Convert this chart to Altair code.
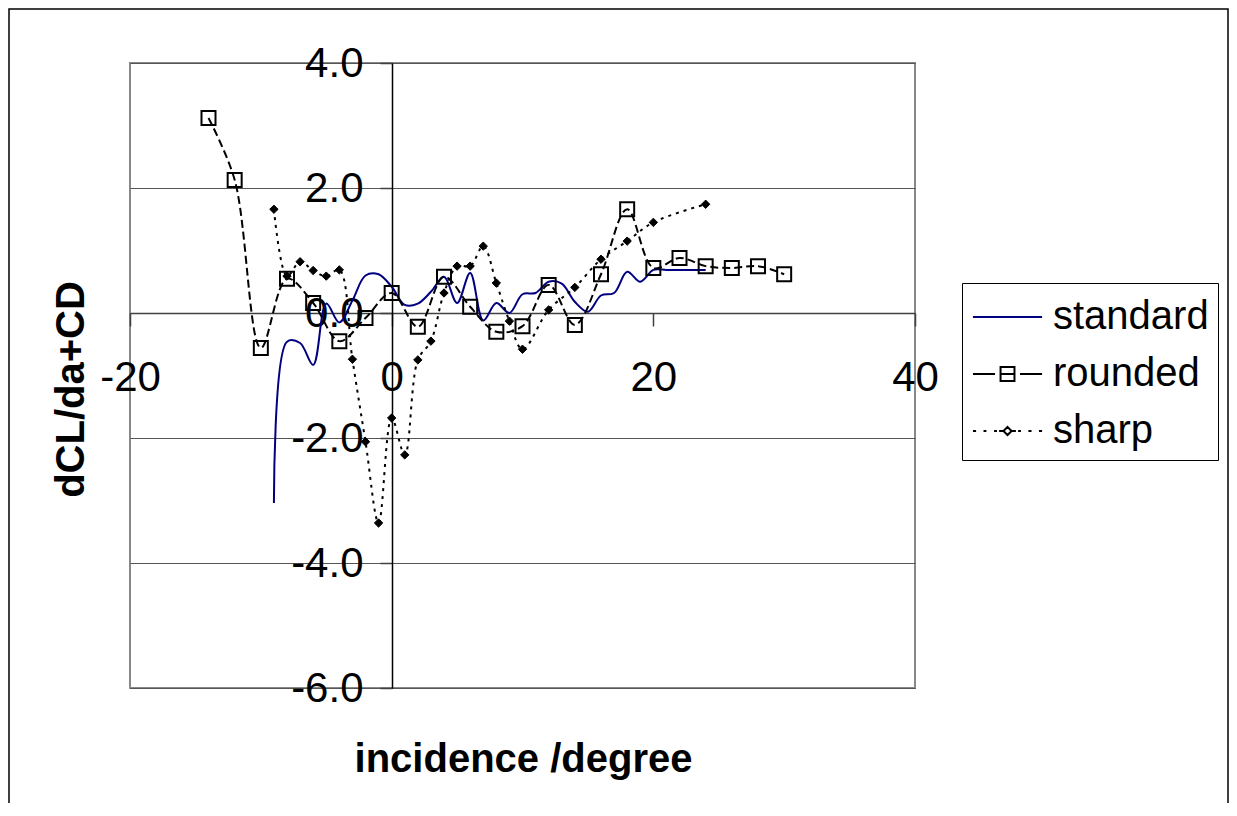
import altair as alt
import pandas as pd

# ---------------- data ----------------
series_names = ["standard", "rounded", "sharp"]

std_x = [-9, -8, -7, -6, -5, -4, -3, -2, -1, 0, 1, 2, 3, 4, 5, 6, 7, 8, 9, 10,
         11, 12, 13, 14, 15, 16, 17, 18, 19, 20, 21, 22, 23, 24]
std_y = [-3.04, -0.46, -0.48, -0.83, 0.15, -0.15, 0.20, 0.60, 0.62, 0.42, 0.13,
         0.15, 0.34, 0.58, 0.16, 0.64, -0.12, 0.16, 0.00, 0.30, 0.32, 0.50, 0.47,
         0.18, 0.02, 0.28, 0.32, 0.66, 0.50, 0.69, 0.69, 0.69, 0.69, 0.69]

rnd_x = [-14, -12, -10, -8, -6, -4, -2, 0, 2, 4, 6, 8, 10, 12, 14, 16, 18, 20,
         22, 24, 26, 28, 30]
rnd_y = [3.12, 2.13, -0.56, 0.55, 0.16, -0.45, -0.08, 0.32, -0.22, 0.58, 0.10,
         -0.30, -0.21, 0.45, -0.19, 0.62, 1.66, 0.72, 0.88, 0.75, 0.72, 0.75, 0.62]

shp_x = [-9, -8, -7, -6, -5, -4, -3, -2, -1, 0, 1, 2, 3, 4, 5, 6, 7, 8, 9, 10,
         12, 14, 16, 18, 20, 24]
shp_y = [1.66, 0.59, 0.82, 0.68, 0.59, 0.69, -0.74, -2.06, -3.36, -1.68, -2.27,
         -0.75, -0.45, 0.32, 0.75, 0.75, 1.07, 0.48, -0.13, -0.58, 0.05, 0.41,
         0.86, 1.15, 1.45, 1.74]

x_ticks = [-20, 0, 20, 40]
y_ticks = [-6, -4, -2, 0, 2, 4]

rows = []
for name, xs, ys in [("standard", std_x, std_y), ("rounded", rnd_x, rnd_y),
                     ("sharp", shp_x, shp_y)]:
    for xv, yv in zip(xs, ys):
        rows.append({"series": name, "x": xv, "y": yv})
df = pd.DataFrame(rows)

# ---------------- styling ----------------
FONT = "Liberation Sans"
W, H = 785, 625
series_colors = ["#000080", "#000000", "#000000"]
# legend sample glyphs (line + marker), unit = 24 px
legend_paths = [
    "M-0.96,0H1.92",
    "M-0.96,0H-0.04M0.19,-0.29H0.77V0.29H0.19ZM0.19,0H0.77M1,0H1.92",
    "M-0.96,0H-0.83M-0.52,0H-0.4M-0.08,0H0.04M0.13,0H0.29"
    "M0.48,-0.17L0.65,0L0.48,0.17L0.31,0Z"
    "M0.67,0H0.83M0.92,0H1.04M1.35,0H1.48M1.79,0H1.92",
]

x_enc = alt.X(
    "x:Q",
    scale=alt.Scale(domain=[-20, 40], nice=False, zero=False),
    axis=alt.Axis(
        values=x_ticks, offset=-375, grid=False,
        labelExpr="replace(datum.label, '\u2212', '-')",
        domainColor="#404040", domainWidth=1.5,
        tickColor="#404040", tickSize=13, tickWidth=1.5,
        labelFont=FONT, labelFontSize=42, labelColor="black",
        labelPadding=31, labelFlush=False, labelOverlap=False,
        title="incidence /degree", titleFont=FONT, titleFontSize=40,
        titleFontWeight="bold", titleColor="black",
        titleX=393, titleY=458, titleAlign="center",
        titleBaseline="alphabetic",
    ),
)
y_enc = alt.Y(
    "y:Q",
    scale=alt.Scale(domain=[-6, 4], nice=False, zero=False),
    axis=alt.Axis(
        values=y_ticks, format=".1f", offset=-262,
        labelExpr="replace(datum.label, '\u2212', '-')",
        grid=True, gridColor="#555555", gridWidth=1,
        domainColor="#000000", domainWidth=1.5,
        tickColor="#404040", tickSize=12, tickWidth=1.5,
        labelFont=FONT, labelFontSize=42, labelColor="black",
        labelPadding=17, labelFlush=False, labelOverlap=False,
        title="dCL/da+CD", titleFont=FONT, titleFontSize=40,
        titleFontWeight="bold", titleColor="black",
        titleAngle=270, titleX=-321, titleY=326,
        titleAlign="center", titleBaseline="middle",
    ),
)

base = alt.Chart(df)

frame = alt.Chart(alt.Data(values=[{}])).mark_rect(
    fill="transparent", stroke="black", strokeWidth=1.5
).encode(
    x=alt.value(-121), x2=alt.value(1098), y=alt.value(-54), y2=alt.value(790)
)

line_std = base.transform_filter(alt.datum.series == "standard").mark_line(
    interpolate="catmull-rom", color="#000080", strokeWidth=2
).encode(x=x_enc, y=y_enc)

line_rnd = base.transform_filter(alt.datum.series == "rounded").mark_line(
    interpolate="catmull-rom", color="black", strokeWidth=2, strokeDash=[8, 4]
).encode(x=x_enc, y=y_enc)

line_shp = base.transform_filter(alt.datum.series == "sharp").mark_line(
    interpolate="catmull-rom", color="black", strokeWidth=2, strokeDash=[3, 5]
).encode(x=x_enc, y=y_enc)

pts_rnd = base.transform_filter(alt.datum.series == "rounded").mark_point(
    shape="square", size=196, filled=False, stroke="black", strokeWidth=2,
    opacity=1
).encode(x=x_enc, y=y_enc)

pts_shp = base.transform_filter(alt.datum.series == "sharp").mark_point(
    shape="diamond", size=70, filled=True, fill="black", stroke="black",
    strokeWidth=1, opacity=1
).encode(x=x_enc, y=y_enc)

leg_spec = dict(
    orient="none", legendX=832, legendY=220, title=None,
    labelFont=FONT, labelFontSize=40, labelColor="black",
    symbolSize=2304, symbolStrokeWidth=2, labelOffset=32,
    rowPadding=12, padding=9, strokeColor="black", fillColor="white",
)

legend_layer = base.transform_filter("false").mark_point(
    filled=False, strokeWidth=2, opacity=1
).encode(
    x=x_enc, y=y_enc,
    color=alt.Color("series:N",
                    scale=alt.Scale(domain=series_names, range=series_colors),
                    legend=alt.Legend(**leg_spec)),
    shape=alt.Shape("series:N",
                    scale=alt.Scale(domain=series_names, range=legend_paths),
                    legend=alt.Legend(**leg_spec)),
)

chart = alt.layer(
    frame, line_std, line_rnd, line_shp, pts_rnd, pts_shp, legend_layer
).properties(
    width=W, height=H,
    padding={"left": 122, "top": 55, "right": 314, "bottom": 115},
    autosize=alt.AutoSizeParams(type="none"),
).configure(font=FONT).configure_view(stroke="#888888", strokeWidth=2)

chart.save("out.html", embed_options={"renderer": "svg", "actions": False})
